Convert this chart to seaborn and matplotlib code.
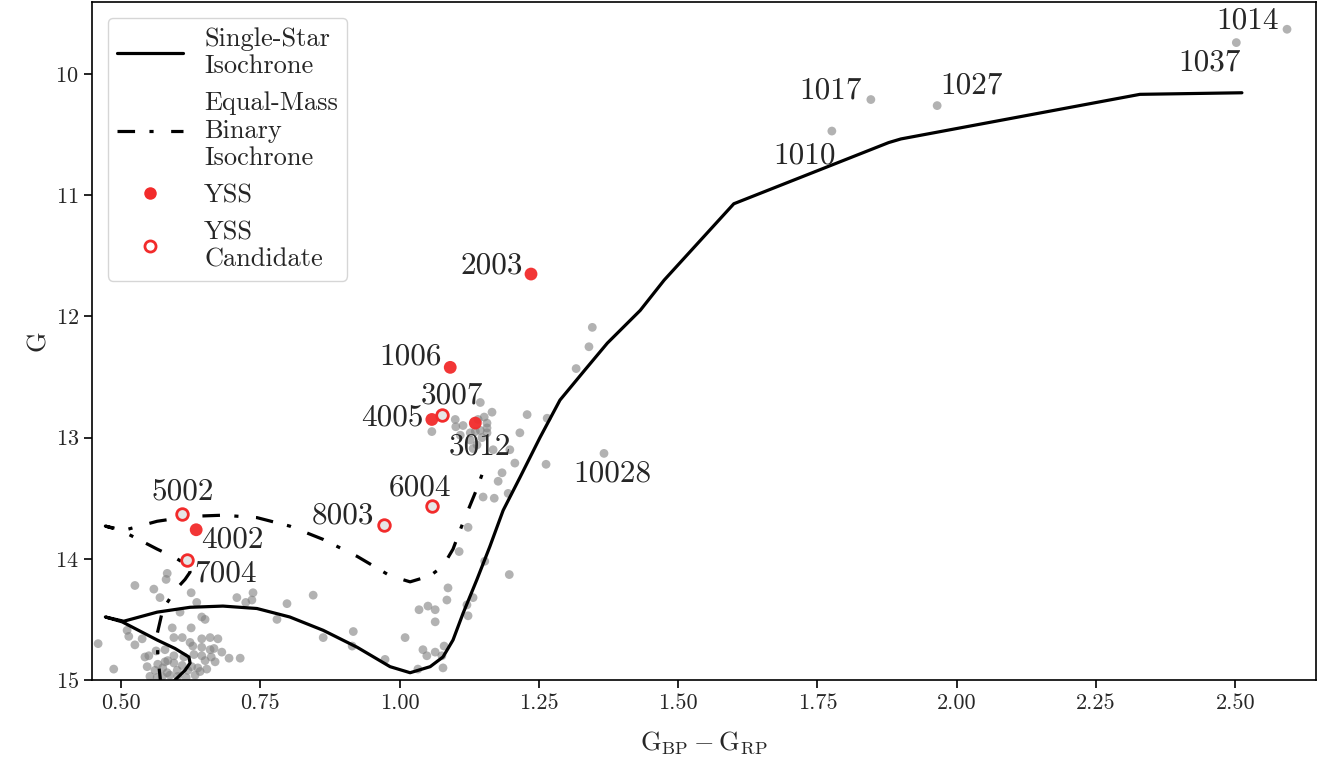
import numpy as np
import pandas as pd
import matplotlib
matplotlib.use("Agg")
import matplotlib.pyplot as plt
import seaborn as sns
from matplotlib.lines import Line2D
from matplotlib.ticker import FormatStrFormatter

# ---------------- data ----------------
iso_color = [0.572, 0.566, 0.565, 0.575, 0.597, 0.615, 0.624, 0.622, 0.597, 0.565,
             0.502, 0.472, 0.505, 0.565, 0.624, 0.683, 0.744, 0.803, 0.863, 0.924,
             0.983, 1.019, 1.055, 1.078, 1.096, 1.114, 1.139, 1.162, 1.186, 1.216,
             1.252, 1.288, 1.333, 1.373, 1.432, 1.475, 1.600, 1.878, 1.900,
             2.329, 2.512]
iso_mag = [15.80, 15.55, 15.38, 15.18, 15.00, 14.92, 14.86, 14.81, 14.74, 14.67,
           14.52, 14.48, 14.515, 14.44, 14.40, 14.39, 14.41, 14.48, 14.59, 14.73,
           14.89, 14.94, 14.89, 14.81, 14.67, 14.45, 14.17, 13.90, 13.60, 13.33,
           13.00, 12.69, 12.44, 12.22, 11.95, 11.70, 11.07, 10.565, 10.535,
           10.167, 10.154]

bin_color = [0.572, 0.566, 0.565, 0.575, 0.597, 0.615, 0.624, 0.622, 0.597, 0.565,
             0.502, 0.472, 0.505, 0.565, 0.624, 0.683, 0.744, 0.803, 0.863, 0.924,
             0.983, 1.019, 1.055, 1.078, 1.096, 1.114, 1.139, 1.150]
bin_mag = [15.05, 14.80, 14.62, 14.42, 14.26, 14.17, 14.11, 14.06, 13.99, 13.92,
           13.77, 13.73, 13.765, 13.69, 13.65, 13.64, 13.66, 13.73, 13.84, 13.98,
           14.14, 14.19, 14.14, 14.06, 13.92, 13.70, 13.42, 13.28]

gray_color = [0.583, 0.581, 0.525, 0.559, 0.570, 0.626, 0.636, 0.606, 0.645, 0.651,
              0.708, 0.724, 0.735, 0.511, 0.514, 0.538, 0.525, 0.459, 0.592, 0.626,
              0.595, 0.610, 0.624, 0.645, 0.660, 0.674, 0.645, 0.660, 0.667, 0.631,
              0.645, 0.651, 0.613, 0.595, 0.550, 0.543, 0.547, 0.561, 0.579, 0.595,
              0.601, 0.583, 0.574, 0.552, 0.627, 0.638, 0.654, 0.669, 0.694, 0.714,
              0.487, 0.565, 0.737, 0.798, 0.845, 0.780, 0.917, 1.010, 0.863, 0.915,
              0.974, 1.035, 1.051, 1.064, 1.064, 1.042, 1.049, 1.064, 1.033, 1.087,
              1.085, 1.132, 1.121, 1.123, 1.076, 1.080, 1.078, 1.123, 1.107, 1.153,
              1.197, 1.177, 1.150, 1.170, 1.195, 1.145, 1.166, 1.152, 1.100, 1.101,
              1.114, 1.058, 1.127, 1.145, 1.157, 1.157, 1.157, 1.148, 1.127, 1.139,
              1.132, 1.168, 1.198, 1.216, 1.229, 1.265, 1.207, 1.263, 1.184, 1.346,
              1.340, 1.317, 1.109, 1.136, 1.141,
              0.566, 0.575, 0.588, 0.602, 0.617, 0.633, 0.642, 0.620, 0.610, 0.584,
              0.563, 0.662, 0.681, 0.579, 0.629]
gray_mag = [14.12, 14.17, 14.22, 14.25, 14.32, 14.28, 14.36, 14.44, 14.48, 14.50,
            14.32, 14.36, 14.34, 14.59, 14.64, 14.66, 14.71, 14.70, 14.57, 14.57,
            14.65, 14.65, 14.69, 14.66, 14.65, 14.66, 14.73, 14.75, 14.74, 14.79,
            14.80, 14.84, 14.81, 14.80, 14.80, 14.81, 14.89, 14.92, 14.85, 14.86,
            14.92, 14.94, 14.97, 14.97, 14.89, 14.90, 14.91, 14.85, 14.82, 14.82,
            14.91, 14.98, 14.28, 14.37, 14.30, 14.50, 14.60, 14.65, 14.65, 14.72,
            14.83, 14.42, 14.39, 14.42, 14.52, 14.75, 14.80, 14.77, 14.91, 14.24,
            14.34, 14.32, 14.38, 14.47, 14.80, 14.72, 14.90, 13.74, 13.94, 14.02,
            14.13, 13.36, 13.49, 13.50, 13.46, 12.71, 12.79, 12.83, 12.85, 12.91,
            12.90, 12.95, 12.96, 12.94, 12.88, 12.92, 12.96, 13.00, 13.02, 13.06,
            13.09, 13.10, 13.10, 12.96, 12.81, 12.84, 13.21, 13.22, 13.29, 12.09,
            12.25, 12.43, 12.98, 12.95, 12.85,
            14.87, 14.90, 14.96, 14.97, 14.98, 14.96, 14.93, 14.92, 14.88, 14.84,
            14.76, 14.81, 14.77, 14.75, 14.72]

named_ids = ["10028", "1010", "1017", "1027", "1037", "1014"]
named_color = [1.367, 1.776, 1.846, 1.965, 2.502, 2.593]
named_mag = [13.13, 10.47, 10.21, 10.26, 9.74, 9.63]

yss_ids = ["2003", "1006", "4005", "3012", "4002"]
yss_color = [1.236, 1.091, 1.058, 1.136, 0.635]
yss_mag = [11.65, 12.42, 12.85, 12.88, 13.76]

cand_ids = ["3007", "5002", "7004", "8003", "6004"]
cand_color = [1.076, 0.610, 0.618, 0.972, 1.058]
cand_mag = [12.81, 13.63, 14.01, 13.72, 13.56]

xticks = [0.50, 0.75, 1.00, 1.25, 1.50, 1.75, 2.00, 2.25, 2.50]
yticks = [10, 11, 12, 13, 14, 15]

# label placement (offset in pixels, alignment) -- style only
label_style = {
    "2003": (-8, 9, "right"), "1006": (-8, 11, "right"), "4005": (-8, 2, "right"),
    "3012": (5, -23, "center"), "4002": (5, -10, "left"),
    "3007": (10, 19, "center"), "5002": (0, 22, "center"), "7004": (8, -13, "left"),
    "8003": (-10, 9, "right"), "6004": (-12, 18, "center"),
    "10028": (8, -20, "center"), "1010": (-27, -24, "center"), "1017": (-9, 9, "right"),
    "1027": (3, 20, "left"), "1037": (-27, -20, "center"), "1014": (-8, 9, "right"),
}

# ---------------- style ----------------
sns.set_style("ticks")
plt.rcParams["font.family"] = ["cmr10", "DejaVu Serif"]
plt.rcParams["mathtext.fontset"] = "cm"
plt.rcParams["axes.unicode_minus"] = False
plt.rcParams["axes.formatter.use_mathtext"] = True

RED = "#f22b2b"
fig = plt.figure(figsize=(13.26, 7.68), dpi=100)
ax = fig.add_axes([92 / 1326, 88 / 768, 1224 / 1326, 678 / 768])

df_gray = pd.DataFrame({"c": gray_color + named_color, "g": gray_mag + named_mag})
sns.scatterplot(data=df_gray, x="c", y="g", color="gray", alpha=0.6, s=40,
                edgecolor="none", ax=ax, zorder=2)

df_iso = pd.DataFrame({"c": iso_color, "g": iso_mag})
sns.lineplot(data=df_iso, x="c", y="g", sort=False, estimator=None, color="black",
             lw=2.3, ax=ax, zorder=3)
df_bin = pd.DataFrame({"c": bin_color, "g": bin_mag})
sns.lineplot(data=df_bin, x="c", y="g", sort=False, estimator=None, color="black",
             lw=2.3, ax=ax, zorder=3)
dashdot = (0, (5.5, 4.5, 1.3, 5.5))
ax.lines[-1].set_linestyle(dashdot)

df_yss = pd.DataFrame({"c": yss_color, "g": yss_mag})
sns.scatterplot(data=df_yss, x="c", y="g", color=RED, s=85, edgecolor="none",
                alpha=0.95, ax=ax, zorder=4)
df_cand = pd.DataFrame({"c": cand_color, "g": cand_mag})
sns.scatterplot(data=df_cand, x="c", y="g", facecolor="#e6e6e6", edgecolor=RED,
                linewidth=2, s=70, ax=ax, zorder=4)

for ids, cs, gs in [(yss_ids, yss_color, yss_mag), (cand_ids, cand_color, cand_mag),
                    (named_ids, named_color, named_mag)]:
    for i, c, g in zip(ids, cs, gs):
        dx, dy, ha = label_style[i]
        ax.annotate(i, (c, g), xytext=(dx, dy), textcoords="offset pixels",
                    ha=ha, va="center", fontsize=22.5, zorder=5)

ax.set_xlim(0.448, 2.645)
ax.set_ylim(15.0, 9.405)
ax.set_xticks(xticks)
ax.set_yticks(yticks)
ax.xaxis.set_major_formatter(FormatStrFormatter("%.2f"))
ax.tick_params(labelsize=16, length=6, width=1.2, color="black")
for sp in ax.spines.values():
    sp.set_linewidth(1.2)
    sp.set_color("black")
ax.set_xlabel(r"$\mathrm{G}_{\mathrm{BP}} - \mathrm{G}_{\mathrm{RP}}$", fontsize=19,
              labelpad=12)
ax.set_ylabel("G", fontsize=19)

handles = [
    Line2D([], [], color="black", lw=2.3),
    Line2D([], [], color="black", lw=2.3, linestyle=dashdot),
    Line2D([], [], color=RED, marker="o", ls="none", markersize=9, markeredgecolor="none"),
    Line2D([], [], color=RED, marker="o", ls="none", markersize=8, markerfacecolor="white",
           markeredgewidth=2),
]
labels = ["Single-Star\nIsochrone", "Equal-Mass\nBinary\nIsochrone", "YSS", "YSS\nCandidate"]
leg = ax.legend(handles, labels, loc="upper left", fontsize=19, frameon=True,
                handlelength=2.5, handletextpad=0.8, borderaxespad=0.6,
                labelspacing=0.5, fancybox=True, borderpad=0.35)
leg.get_frame().set_edgecolor("0.8")

fig.savefig("out.png", dpi=100)
